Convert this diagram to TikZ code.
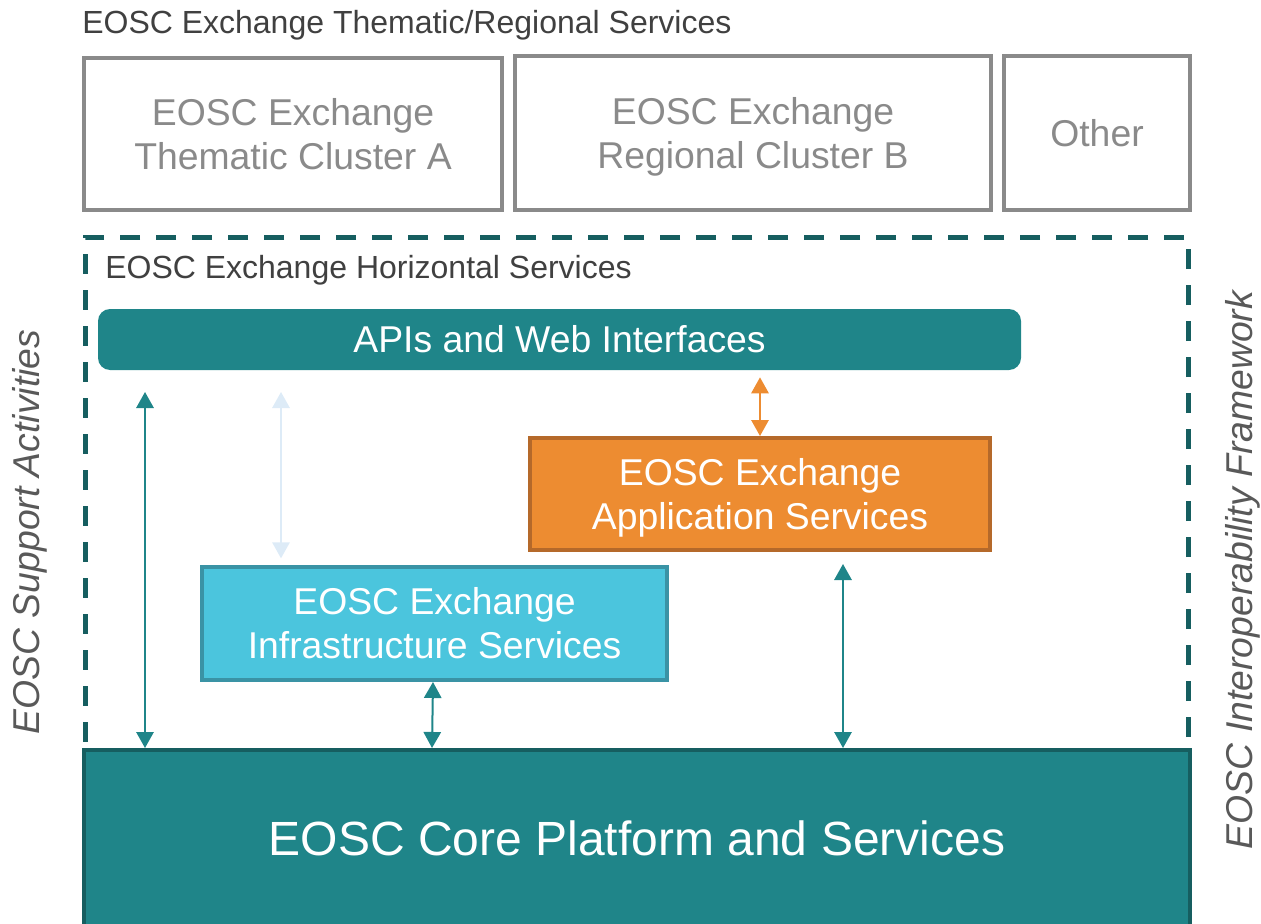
\documentclass[tikz,border=0pt]{standalone}
\usepackage{fontspec}
\setmainfont{Liberation Sans}
\usetikzlibrary{arrows.meta,positioning,calc}
\definecolor{eoscteal}{RGB}{31,133,137}
\definecolor{eoscdark}{RGB}{22,94,96}
\definecolor{eoscorange}{RGB}{237,140,49}
\definecolor{eoscorangeline}{RGB}{181,105,42}
\definecolor{eosccyan}{RGB}{75,197,221}
\definecolor{eosccyanline}{RGB}{58,147,165}
\definecolor{clustergray}{RGB}{138,138,138}
\definecolor{labelgray}{RGB}{64,64,64}
\definecolor{sidegray}{RGB}{89,89,89}
\definecolor{paleblue}{RGB}{221,235,247}
\tikzset{cluster/.style={draw=clustergray, line width=3pt, text=clustergray, align=center,
font=\fontsize{28}{33}\selectfont},
service/.style={line width=3pt, text=white, align=center, font=\fontsize{28}{33}\selectfont},
biarrow/.style={{Triangle[width=13pt,length=12pt]}-{Triangle[width=13pt,length=12pt]}, line width=1.5pt},
sidelabel/.style={rotate=90, text=sidegray, font=\fontsize{28}{33}\selectfont\itshape},
heading/.style={anchor=west, text=labelgray, font=\fontsize{24}{28}\selectfont, inner sep=0pt}}

\begin{document}
\begin{tikzpicture}[x=0.75pt, y=-0.75pt]
    \useasboundingbox (0,0) rectangle (1261,924);
    \clip (0,0) rectangle (1261,924);

    \node[heading] (toptitle) at (82,25) {EOSC Exchange Thematic/Regional Services};
    \node[cluster, minimum width=313.5pt, minimum height=114pt] (thematic) at (293,134) {EOSC Exchange\\Thematic Cluster A};
    \node[cluster, text depth=0pt, minimum width=357pt, minimum height=115.5pt] (regional) at (753,133) {EOSC Exchange\\Regional Cluster B};
    \node[cluster, minimum width=139.5pt, minimum height=115.5pt] (other) at (1097,133) {Other};

    \node[draw=eoscdark, line width=3.75pt, dash pattern=on 15pt off 12pt,
          minimum width=827.25pt, minimum height=384.75pt] (horizontal) at (636.5,493.5) {};
    \node[heading] (horizontaltitle) at (105,270) {EOSC Exchange Horizontal Services};

    \node[service, fill=eoscteal, rounded corners=9pt, minimum width=692.25pt, minimum height=45.75pt] (apis) at (559.5,339.5) {APIs and Web Interfaces};
    \node[service, text depth=0pt, draw=eoscorangeline, fill=eoscorange, minimum width=345pt, minimum height=84pt] (application) at (760,494) {EOSC Exchange\\Application Services};
    \node[service, draw=eosccyanline, fill=eosccyan, minimum width=348.75pt, minimum height=84.75pt] (infrastructure) at (434.5,623.5) {EOSC Exchange\\Infrastructure Services};
    \node[service, draw=eoscdark, fill=eoscteal, minimum width=829.5pt, minimum height=132pt,
          font=\fontsize{36}{43}\selectfont] (core) at (637,838) {EOSC Core Platform and Services};

    \node[sidelabel] (support) at (30,532) {EOSC Support Activities};
    \node[sidelabel] (interop) at (1243,570) {EOSC Interoperability Framework};

    % links between the layers
    \draw[biarrow, eoscteal, shorten <=15pt] (apis.south -| 145,0) -- (core.north -| 145,0);
    \draw[biarrow, paleblue, shorten <=15pt, shorten >=5pt] (apis.south -| 281,0) -- (infrastructure.north -| 281,0);
    \draw[biarrow, eoscorange, shorten <=4pt] (apis.south -| 760,0) -- (application.north);
    \draw[biarrow, eoscteal] (infrastructure.south -| 433,0) -- (core.north -| 432,0);
    \draw[biarrow, eoscteal, shorten <=9pt] (application.south -| 843,0) -- (core.north -| 843,0);
\end{tikzpicture}
\end{document}
